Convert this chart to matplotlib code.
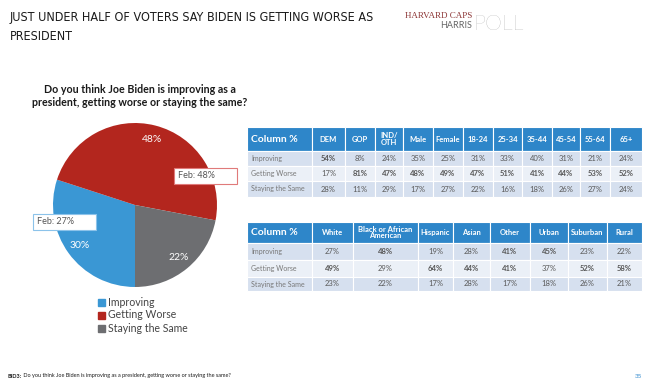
import matplotlib.pyplot as plt
from matplotlib.patches import Rectangle

plt.rcParams['font.family'] = ['Lato', 'DejaVu Sans']

# pie data
categories = ["Improving", "Getting Worse", "Staying the Same"]
pie_values = [30, 48, 22]
feb_improving = 27
feb_worse = 48
pie_colors = ["#3a97d4", "#b3261e", "#6d6e71"]

# table 1
t1_cols = ["DEM", "GOP", "IND/\nOTH", "Male", "Female", "18-24", "25-34", "35-44", "45-54", "55-64", "65+"]
t1_improving = [54, 8, 24, 35, 25, 31, 33, 40, 31, 21, 24]
t1_worse = [17, 81, 47, 48, 49, 47, 51, 41, 44, 53, 52]
t1_same = [28, 11, 29, 17, 27, 22, 16, 18, 26, 27, 24]

# table 2
t2_cols = ["White", "Black or African\nAmerican", "Hispanic", "Asian", "Other", "Urban", "Suburban", "Rural"]
t2_improving = [27, 48, 19, 28, 41, 45, 23, 22]
t2_worse = [49, 29, 64, 44, 41, 37, 52, 58]
t2_same = [23, 22, 17, 28, 17, 18, 26, 21]

W, H = 650, 386
fig = plt.figure(figsize=(W / 100, H / 100), dpi=100)
ax = fig.add_axes([0, 0, 1, 1])
ax.set_xlim(0, W)
ax.set_ylim(H, 0)
ax.axis("off")

# header
ax.text(10, 11, "JUST UNDER HALF OF VOTERS SAY BIDEN IS GETTING WORSE AS\nPRESIDENT",
        family="DejaVu Sans", fontstretch="condensed", fontsize=9, color="#1a1a1a",
        va="top", ha="left", linespacing=1.65)
ax.text(472, 18, "HARVARD CAPS", family="Liberation Serif", fontsize=6.5, color="#8c3535",
        ha="right", va="baseline")
ax.text(472, 28, "HARRIS", fontsize=6.5, color="#666666", ha="right", va="baseline")
ax.text(474, 30, "POLL", fontsize=15.5, color="#9e9e9e", ha="left", va="baseline", fontweight="light")

# question
ax.text(140, 96, "Do you think Joe Biden is improving as a\npresident, getting worse or staying the same?",
        fontsize=7.7, fontweight="bold", color="#1a1a1a", ha="center", va="center", linespacing=1.3)

# pie
cx, cy, r = 135, 205, 82
pax = fig.add_axes([(cx - r) / W, (H - cy - r) / H, 2 * r / W, 2 * r / H])
wedges, texts, autotexts = pax.pie(pie_values, colors=pie_colors, startangle=270, counterclock=False,
                                   autopct=lambda p: f"{p:.0f}%", pctdistance=0.83,
                                   textprops=dict(color="white", fontsize=7.5))
pax.set_xlim(-1, 1)
pax.set_ylim(-1, 1)
pax.axis("off")

# overlay for the Feb call-outs, above the pie
oax = fig.add_axes([0, 0, 1, 1])
oax.set_xlim(0, W)
oax.set_ylim(H, 0)
oax.axis("off")
oax.add_patch(Rectangle((174, 168), 63, 16, fc="white", ec="#e07a7a", lw=0.8))
oax.text(178, 176, f"Feb: {feb_worse}%", fontsize=6.5, color="#555555", va="center", ha="left")
oax.add_patch(Rectangle((33, 214), 63, 16, fc="white", ec="#8cc3ea", lw=0.8))
oax.text(37, 222, f"Feb: {feb_improving}%", fontsize=6.5, color="#555555", va="center", ha="left")

# legend
for i, (c, col) in enumerate(zip(categories, pie_colors)):
    y = 302 + i * 13
    ax.add_patch(Rectangle((98, y - 3.5), 7, 7, color=col))
    ax.text(108, y, c, fontsize=7.6, color="#444444", va="center", ha="left")


def draw_table(edges, head_y, row_ys, cols, rows, row_names):
    head_c = "#2e86c9"
    shades = ["#d6e0ef", "#ebf0f7", "#d6e0ef"]
    # header
    for j in range(len(edges) - 1):
        ax.add_patch(Rectangle((edges[j], head_y[0]), edges[j + 1] - edges[j], head_y[1] - head_y[0],
                               fc=head_c, ec="white", lw=0.8))
    ym = (head_y[0] + head_y[1]) / 2
    ax.text(edges[0] + 4, ym, "Column %", color="white", fontsize=7.5, fontweight="bold",
            va="center", ha="left")
    for j, name in enumerate(cols):
        xm = (edges[j + 1] + edges[j + 2]) / 2
        ax.text(xm, ym, name, color="white", fontsize=5.5, fontweight="bold", va="center",
                ha="center", linespacing=1.0)
    # rows
    col_max = [max(v) for v in zip(*rows)]
    for i, (vals, rname) in enumerate(zip(rows, row_names)):
        y0, y1 = row_ys[i], row_ys[i + 1]
        for j in range(len(edges) - 1):
            ax.add_patch(Rectangle((edges[j], y0), edges[j + 1] - edges[j], y1 - y0,
                                   fc=shades[i], ec="white", lw=0.8))
        yc = (y0 + y1) / 2
        ax.text(edges[0] + 4, yc, rname, color="#777777", fontsize=5, va="center", ha="left")
        for j, v in enumerate(vals):
            xm = (edges[j + 1] + edges[j + 2]) / 2
            ax.text(xm, yc, f"{v}%", color="#595959", fontsize=5.5, va="center", ha="center",
                    fontweight="bold" if v == col_max[j] else "normal")


row_names = ["Improving", "Getting Worse", "Staying the Same"]
draw_table([247, 312, 345, 375, 403, 433, 463, 493, 522, 552, 580, 610, 642],
           (127, 151), [151, 166, 181, 197], t1_cols,
           [t1_improving, t1_worse, t1_same], row_names)
draw_table([247, 312, 353, 418, 453, 490, 530, 568, 607, 642],
           (222, 243), [243, 260, 277, 291], t2_cols,
           [t2_improving, t2_worse, t2_same], row_names)

# footer
b = ax.text(8, 376, "BID3:", fontsize=4, fontweight="bold", color="#1a1a1a", va="center", ha="left")
ax.annotate(" Do you think Joe Biden is improving as a president, getting worse or staying the same?",
            xy=(1, 0.5), xycoords=b, fontsize=4, color="#1a1a1a", va="center", ha="left")
ax.text(642, 376, "35", fontsize=4.5, color="#3b8fd0", va="center", ha="right")

plt.savefig("out.png", dpi=100)
